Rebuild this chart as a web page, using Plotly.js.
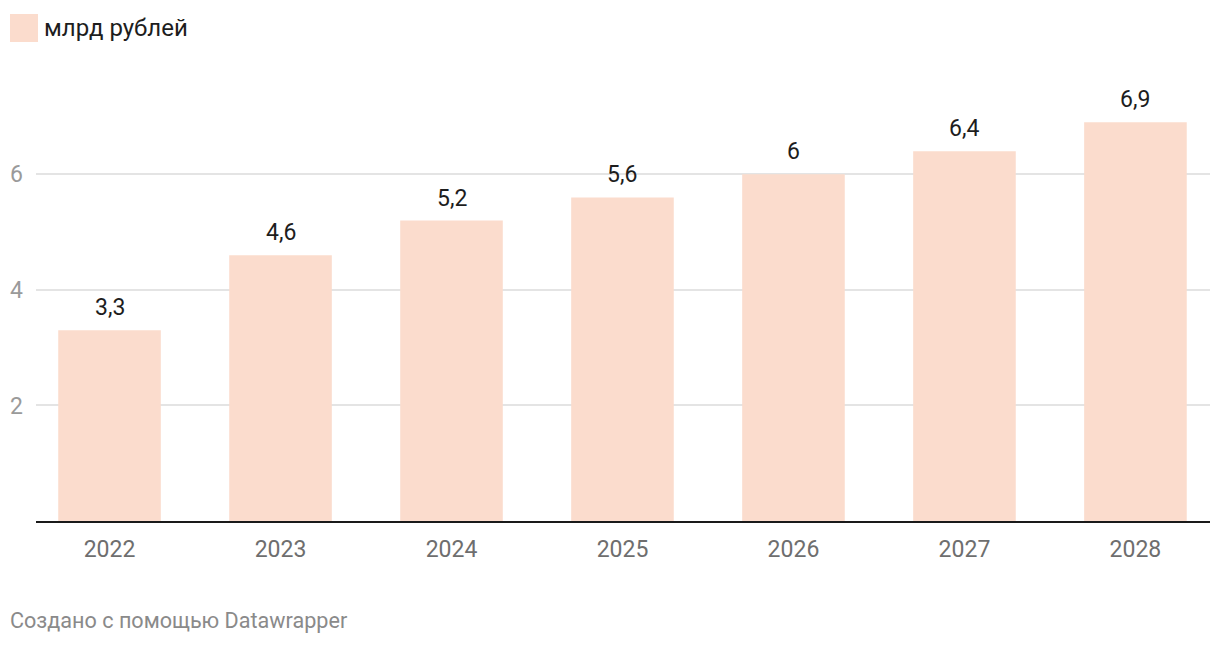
<!DOCTYPE html>
<html>
<head>
<meta charset="utf-8">
<script src="https://cdn.plot.ly/plotly-3.0.1.min.js"></script>
<style>
  html, body { margin: 0; padding: 0; background: #fff; }
  #chart { width: 1220px; height: 646px; }
</style>
</head>
<body>
<div id="chart"></div>
<script>
const years = ['2022', '2023', '2024', '2025', '2026', '2027', '2028'];
const values = [3.3, 4.6, 5.2, 5.6, 6, 6.4, 6.9];
const seriesName = 'млрд рублей';
const yTicks = [2, 4, 6];
const credit = 'Создано с помощью Datawrapper';

const barColor = '#fbdccd';
const font = 'Roboto, "Noto Sans", sans-serif';

const fmt = v => String(v).replace('.', ',');

const valueAnnotations = years.map((y, i) => ({
  x: i, y: values[i], xref: 'x', yref: 'y',
  text: fmt(values[i]), showarrow: false,
  yanchor: 'bottom', yshift: 7,
  font: { family: font, size: 23, color: '#1d1d1d' }
}));

const trace = {
  type: 'bar', x: years, y: values, name: seriesName,
  marker: { color: barColor }, width: 0.6, hoverinfo: 'none'
};

const plotW = 1174, plotH = 416;
const px = p => (p - 36) / plotW;
const py = p => (521 - p) / plotH;

const layout = {
  width: 1220, height: 646,
  margin: { l: 36, r: 10, t: 105, b: 125 },
  paper_bgcolor: '#fff', plot_bgcolor: '#fff',
  showlegend: false,
  separators: ', ',
  font: { family: font },
  bargap: 0.4,
  xaxis: {
    type: 'category', range: [-0.43, 6.436],
    showgrid: false, zeroline: false,
    showline: true, linecolor: '#1a1a1a', linewidth: 2,
    ticks: '', ticklabelstandoff: 6,
    tickfont: { family: font, size: 23, color: '#6e6e6e' }
  },
  yaxis: {
    range: [0, 7.2], tickvals: yTicks, ticktext: yTicks.map(String),
    showgrid: true, gridcolor: '#e4e4e4', gridwidth: 2,
    zeroline: false, showline: false, ticks: '',
    ticklabelstandoff: 12,
    tickfont: { family: font, size: 23, color: '#9a9a9a' }
  },
  shapes: [{
    type: 'rect', xref: 'paper', yref: 'paper',
    x0: px(10), x1: px(38), y0: py(42), y1: py(14),
    fillcolor: barColor, line: { width: 0 }
  }],
  annotations: valueAnnotations.concat([
    {
      xref: 'paper', yref: 'paper', x: px(42), y: py(28),
      xanchor: 'left', yanchor: 'middle', showarrow: false,
      text: seriesName, font: { family: font, size: 24, color: '#1d1d1d' }
    },
    {
      xref: 'paper', yref: 'paper', x: px(8), y: py(620),
      xanchor: 'left', yanchor: 'middle', showarrow: false,
      text: credit, font: { family: font, size: 21.6, color: '#8a8a8a' }
    }
  ])
};

Plotly.newPlot('chart', [trace], layout, { displayModeBar: false, staticPlot: true });
</script>
</body>
</html>
